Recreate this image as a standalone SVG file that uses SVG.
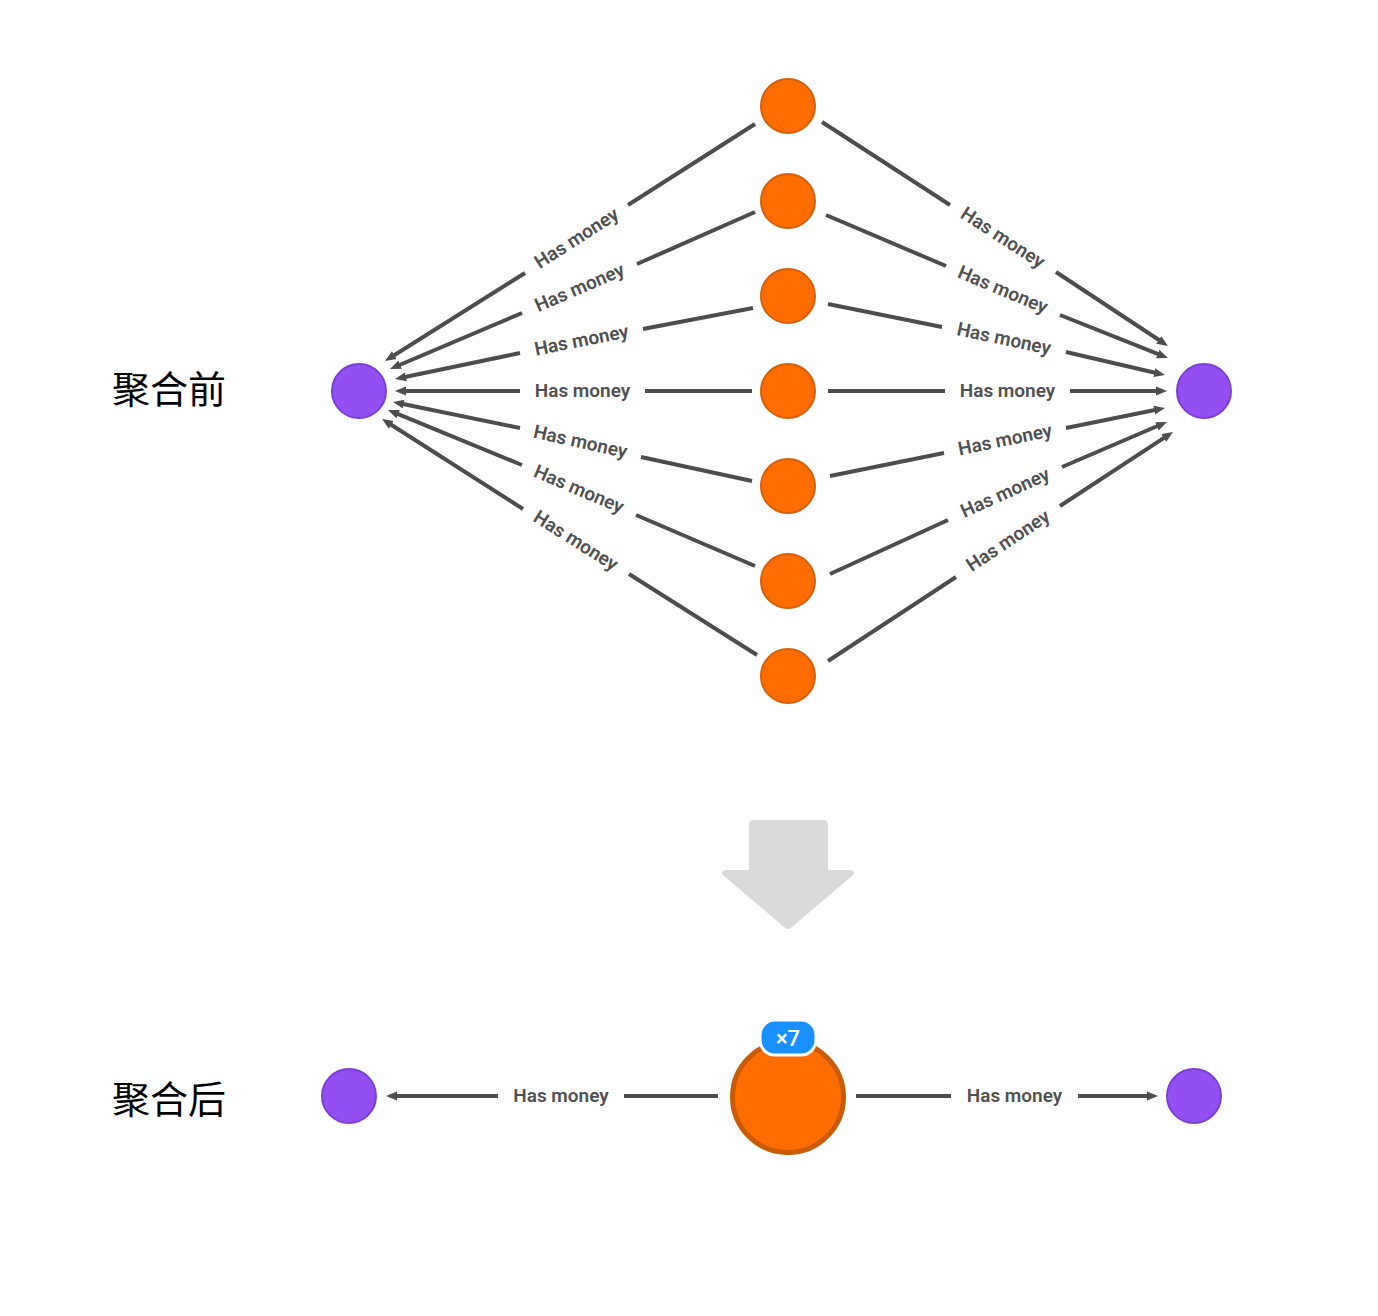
<svg xmlns="http://www.w3.org/2000/svg" width="1378" height="1316" viewBox="0 0 1378 1316">
<style>
.edge{stroke:#4d4d4d;stroke-width:4;fill:none}
.lbl{font-family:Roboto,"Liberation Sans",sans-serif;font-size:19px;font-weight:600;fill:#505050;text-anchor:middle;dominant-baseline:central}
.org{fill:#ff6d00;stroke:#d5600a;stroke-width:2}
.pur{fill:#944ff2;stroke:#7b3fd4;stroke-width:2}
.cn{font-family:"Noto Sans CJK SC","Noto Sans",sans-serif;font-size:38px;fill:#000}
</style>
<defs>
<marker id="arr" markerUnits="userSpaceOnUse" markerWidth="14" markerHeight="12" refX="2" refY="5" orient="auto">
<path d="M0,0.5 L11,5 L0,9.5 z" fill="#4d4d4d"/>
</marker>
</defs>
<rect width="1378" height="1316" fill="#fff"/>
<g id="connectors">
<path class="edge" d="M755,124 L628,205"/><path class="edge" d="M525,273 L392.6,356.2" marker-end="url(#arr)"/>
<path class="edge" d="M755,212 L637,264"/><path class="edge" d="M522,313 L398.3,365.5" marker-end="url(#arr)"/>
<path class="edge" d="M753,308 L643,329"/><path class="edge" d="M520,353 L403.8,377.2" marker-end="url(#arr)"/>
<path class="edge" d="M752,391 L645,391"/><path class="edge" d="M520,391 L404,391" marker-end="url(#arr)"/>
<path class="edge" d="M752,481 L641,457"/><path class="edge" d="M520,428 L401.8,403.8" marker-end="url(#arr)"/>
<path class="edge" d="M755,566 L636,515"/><path class="edge" d="M522,465 L396.3,413.4" marker-end="url(#arr)"/>
<path class="edge" d="M757,655 L629,574"/><path class="edge" d="M523,509 L389.6,423.8" marker-end="url(#arr)"/>
<path class="edge" d="M822,122 L950,205"/><path class="edge" d="M1056,272 L1160.5,341" marker-end="url(#arr)"/>
<path class="edge" d="M826,215 L946,266"/><path class="edge" d="M1060,315 L1159.6,354.7" marker-end="url(#arr)"/>
<path class="edge" d="M828,304 L942,327"/><path class="edge" d="M1066,352 L1156.2,373" marker-end="url(#arr)"/>
<path class="edge" d="M828,391 L945,391"/><path class="edge" d="M1070,391 L1158,391" marker-end="url(#arr)"/>
<path class="edge" d="M830,476 L944,453"/><path class="edge" d="M1066,428 L1156.2,409.8" marker-end="url(#arr)"/>
<path class="edge" d="M830,574 L948,520"/><path class="edge" d="M1062,467 L1158.7,425.5" marker-end="url(#arr)"/>
<path class="edge" d="M828,661 L956,577"/><path class="edge" d="M1060,506 L1165.5,436.9" marker-end="url(#arr)"/>
<path class="edge" d="M718,1096 L624,1096"/><path class="edge" d="M498,1096 L395,1096" marker-end="url(#arr)"/>
<path class="edge" d="M856,1096 L951,1096"/><path class="edge" d="M1078,1096 L1149,1096" marker-end="url(#arr)"/>
<text class="lbl" transform="translate(576.5,238) rotate(-32.6)">Has money</text>
<text class="lbl" transform="translate(579.5,287.5) rotate(-23.3)">Has money</text>
<text class="lbl" transform="translate(581.5,340) rotate(-11.2)">Has money</text>
<text class="lbl" transform="translate(582.5,390)">Has money</text>
<text class="lbl" transform="translate(580.5,441.5) rotate(12.4)">Has money</text>
<text class="lbl" transform="translate(579,489) rotate(23)">Has money</text>
<text class="lbl" transform="translate(576,540.5) rotate(32.2)">Has money</text>
<text class="lbl" transform="translate(1003,237.5) rotate(32.9)">Has money</text>
<text class="lbl" transform="translate(1003,289.5) rotate(22.7)">Has money</text>
<text class="lbl" transform="translate(1004,338.5) rotate(11.9)">Has money</text>
<text class="lbl" transform="translate(1007.5,390)">Has money</text>
<text class="lbl" transform="translate(1005,439.5) rotate(-11.5)">Has money</text>
<text class="lbl" transform="translate(1005,492.5) rotate(-24.3)">Has money</text>
<text class="lbl" transform="translate(1008,540.5) rotate(-33.6)">Has money</text>
<text class="lbl" transform="translate(561,1095)">Has money</text>
<text class="lbl" transform="translate(1014.5,1095)">Has money</text>
</g>
<g id="title-before"><text class="cn" x="112" y="403">聚合前</text></g>
<g id="title-after"><text class="cn" x="112" y="1113">聚合后</text></g>
<g id="left-purple"><circle class="pur" cx="359" cy="391" r="27"/></g>
<g id="right-purple"><circle class="pur" cx="1204" cy="391" r="27"/></g>
<g id="orange-1"><circle class="org" cx="788" cy="106" r="27"/></g>
<g id="orange-2"><circle class="org" cx="788" cy="201" r="27"/></g>
<g id="orange-3"><circle class="org" cx="788" cy="296" r="27"/></g>
<g id="orange-4"><circle class="org" cx="788" cy="391" r="27"/></g>
<g id="orange-5"><circle class="org" cx="788" cy="486" r="27"/></g>
<g id="orange-6"><circle class="org" cx="788" cy="581" r="27"/></g>
<g id="orange-7"><circle class="org" cx="788" cy="676" r="27"/></g>
<g id="down-arrow"><path d="M754,820 H823 Q828,820 828,825 V870 H850 Q857,871 852,876 L792,927 Q788,931 784,927 L724,876 Q719,871 726,870 H749 V825 Q749,820 754,820 Z" fill="#d9d9d9"/></g>
<g id="agg-left-purple"><circle class="pur" cx="349" cy="1096" r="27"/></g>
<g id="agg-right-purple"><circle class="pur" cx="1194" cy="1096" r="27"/></g>
<g id="agg-orange">
<circle cx="788" cy="1097" r="55.5" fill="#ff6d00" stroke="#c95a06" stroke-width="5"/>
<rect x="760" y="1020" width="56" height="35" rx="15" fill="#1890ff" stroke="#fff" stroke-width="3"/>
<text x="788" y="1038" font-family="Roboto,'Liberation Sans',sans-serif" font-size="22" font-weight="500" fill="#fff" text-anchor="middle" dominant-baseline="central">×7</text>
</g>
</svg>
